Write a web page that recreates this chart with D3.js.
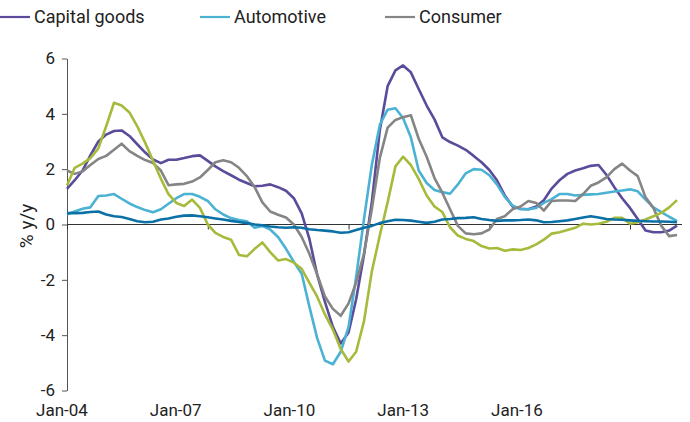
<!DOCTYPE html>
<html><head><meta charset="utf-8">
<script src="https://cdn.jsdelivr.net/npm/d3@7"></script>
<style>
body{margin:0;background:#fff}
svg text{font-family:Roboto,"Open Sans",sans-serif;fill:#222}
</style>
</head><body>
<svg id="chart" width="690" height="422"></svg>
<script>
// ---- data (monthly, every 2 months starting Jan-04) ----
const startDate = "2004-01";
const stepMonths = 2;
const seriesNames = ["Capital goods","Automotive","Consumer","Series 4","Series 5"];
const legendNames = ["Capital goods","Automotive","Consumer"];
const seriesColors = ["#5b4b9a","#4bb2d3","#858585","#a6ba3c","#0b70a5"];
const xTickLabels = ["Jan-04","Jan-07","Jan-10","Jan-13","Jan-16"];
const yTicks = [-6,-4,-2,0,2,4,6];

const capitalGoods = [1.29,1.6,1.95,2.5,3.0,3.25,3.38,3.4,3.2,2.9,
 2.6,2.35,2.22,2.34,2.34,2.4,2.47,2.5,2.3,2.1,
 1.93,1.78,1.62,1.5,1.38,1.4,1.45,1.35,1.22,0.95,
 0.4,-0.5,-1.8,-2.8,-3.7,-4.3,-3.9,-2.7,-1.1,0.8,
 3.4,5.0,5.57,5.75,5.5,4.9,4.3,3.8,3.15,2.98,
 2.85,2.7,2.48,2.25,1.97,1.6,1.05,0.65,0.57,0.55,
 0.65,0.88,1.3,1.6,1.83,1.95,2.03,2.12,2.15,1.8,
 1.35,0.95,0.6,0.2,-0.22,-0.28,-0.28,-0.22,-0.04];
const automotive = [0.36,0.47,0.57,0.62,1.03,1.05,1.1,0.93,0.76,0.63,
 0.52,0.44,0.55,0.75,0.95,1.1,1.1,1.0,0.85,0.55,
 0.36,0.23,0.16,0.12,-0.12,-0.05,-0.18,-0.45,-0.88,-1.35,
 -1.78,-2.95,-4.1,-4.92,-5.05,-4.6,-3.7,-1.9,0.2,2.15,
 3.6,4.15,4.2,3.85,3.15,1.95,1.5,1.25,1.17,1.11,
 1.45,1.85,2.0,1.98,1.78,1.45,1.0,0.68,0.55,0.55,
 0.6,0.78,0.92,1.1,1.1,1.05,1.07,1.09,1.1,1.15,
 1.19,1.23,1.27,1.2,0.9,0.62,0.45,0.28,0.12];
const consumer = [1.95,1.83,1.92,2.15,2.37,2.48,2.7,2.92,2.65,2.48,
 2.33,2.22,1.95,1.42,1.45,1.47,1.55,1.7,1.97,2.25,
 2.32,2.25,2.05,1.75,1.35,0.8,0.47,0.35,0.25,0.0,
 -0.45,-1.05,-1.8,-2.6,-3.05,-3.3,-2.85,-2.1,-1.05,0.55,
 2.4,3.5,3.78,3.88,3.95,3.1,2.45,1.68,1.15,0.55,
 -0.05,-0.32,-0.35,-0.32,-0.18,0.2,0.3,0.55,0.65,0.85,
 0.78,0.5,0.85,0.87,0.87,0.85,1.1,1.4,1.52,1.7,
 2.0,2.2,1.95,1.75,0.98,0.6,-0.05,-0.42,-0.38];
const series4 = [1.41,2.05,2.2,2.4,2.75,3.55,4.4,4.3,4.05,3.55,
 2.95,2.3,1.65,1.1,0.78,0.67,0.9,0.6,0.0,-0.3,
 -0.45,-0.55,-1.1,-1.15,-0.88,-0.65,-1.0,-1.3,-1.25,-1.38,
 -1.6,-2.1,-2.6,-3.25,-3.8,-4.5,-4.95,-4.6,-3.5,-1.7,
 -0.4,0.8,2.1,2.45,2.15,1.65,1.05,0.65,0.45,-0.1,
 -0.4,-0.52,-0.6,-0.78,-0.87,-0.85,-0.95,-0.9,-0.92,-0.85,
 -0.72,-0.55,-0.33,-0.28,-0.2,-0.12,0.03,0.0,0.03,0.1,
 0.24,0.24,0.03,0.08,0.18,0.3,0.42,0.62,0.88];
const series5 = [0.41,0.41,0.42,0.45,0.47,0.36,0.3,0.27,0.2,0.12,
 0.08,0.1,0.18,0.22,0.28,0.32,0.33,0.3,0.26,0.22,
 0.18,0.13,0.09,0.05,0.0,-0.03,-0.07,-0.1,-0.12,-0.1,
 -0.12,-0.17,-0.2,-0.22,-0.25,-0.3,-0.28,-0.2,-0.12,-0.05,
 0.05,0.12,0.17,0.16,0.14,0.1,0.06,0.1,0.18,0.2,
 0.23,0.24,0.26,0.2,0.16,0.13,0.15,0.15,0.16,0.18,
 0.15,0.08,0.09,0.12,0.15,0.2,0.25,0.3,0.25,0.2,
 0.18,0.17,0.15,0.13,0.12,0.11,0.11,0.1,0.08];

const allSeries = [capitalGoods, automotive, consumer, series4, series5];

// ---- chart ----
const svg = d3.select("#chart");
const start = d3.timeParse("%Y-%m")(startDate);
const dateOf = i => d3.timeMonth.offset(start, i * stepMonths);
const parseTick = d3.timeParse("%b-%y");

const x = d3.scaleTime()
  .domain([parseTick(xTickLabels[0]), parseTick(xTickLabels[xTickLabels.length - 1])])
  .range([67, 630]);
const y = d3.scaleLinear().domain([-6, 6]).range([390.5, 58.5]);
const xLabel = d3.scalePoint().domain(xTickLabels).range([62, 517]);

// y axis
const yAxis = d3.axisLeft(y).tickValues(yTicks).tickSize(5).tickSizeOuter(0).tickPadding(7)
  .tickFormat(d => String(d));
const gy = svg.append("g").attr("transform", "translate(67,0)").call(yAxis);
gy.select(".domain").attr("stroke", "#555");
gy.selectAll(".tick line").attr("stroke", "#555");
gy.selectAll(".tick text").attr("font-size", 17).attr("fill", "#222")
  .style("font-family", "Roboto, 'Open Sans', sans-serif");

// zero line
svg.append("line")
  .attr("x1", 67).attr("x2", 682)
  .attr("y1", y(0)).attr("y2", y(0))
  .attr("stroke", "#333").attr("stroke-width", 1.2);

// x ticks on zero line
const xAxis = d3.axisBottom(x).tickValues(xTickLabels.map(parseTick)).tickSize(5).tickFormat("");
const gx = svg.append("g").attr("transform", `translate(0,${y(0)})`).call(xAxis);
gx.select(".domain").remove();
gx.selectAll(".tick line").attr("stroke", "#333");

// x labels
svg.append("g").selectAll("text").data(xTickLabels).join("text")
  .attr("x", d => xLabel(d)).attr("y", 416)
  .attr("text-anchor", "middle").attr("font-size", 17)
  .text(d => d);

// y title
svg.append("text")
  .attr("transform", `translate(33,${226}) rotate(-90)`)
  .attr("text-anchor", "middle").attr("font-size", 19)
  .text("% y/y");

// lines
const line = d3.line()
  .x((d, i) => x(dateOf(i)))
  .y(d => y(d));
svg.append("g").selectAll("path").data(allSeries).join("path")
  .attr("d", d => line(d))
  .attr("fill", "none")
  .attr("stroke", (d, i) => seriesColors[i])
  .attr("stroke-width", 2.6)
  .attr("stroke-linejoin", "round");

// legend
const legendX = d3.scaleOrdinal().domain(legendNames).range([0, 200, 385]);
const lg = svg.append("g").selectAll("g").data(legendNames).join("g")
  .attr("transform", d => `translate(${legendX(d)},17)`);
lg.append("line").attr("x1", 0).attr("x2", 30).attr("y1", 0).attr("y2", 0)
  .attr("stroke", (d, i) => seriesColors[i]).attr("stroke-width", 2.2);
lg.append("text").attr("x", 34).attr("y", 6).attr("font-size", 18).text(d => d);
</script>
</body></html>
